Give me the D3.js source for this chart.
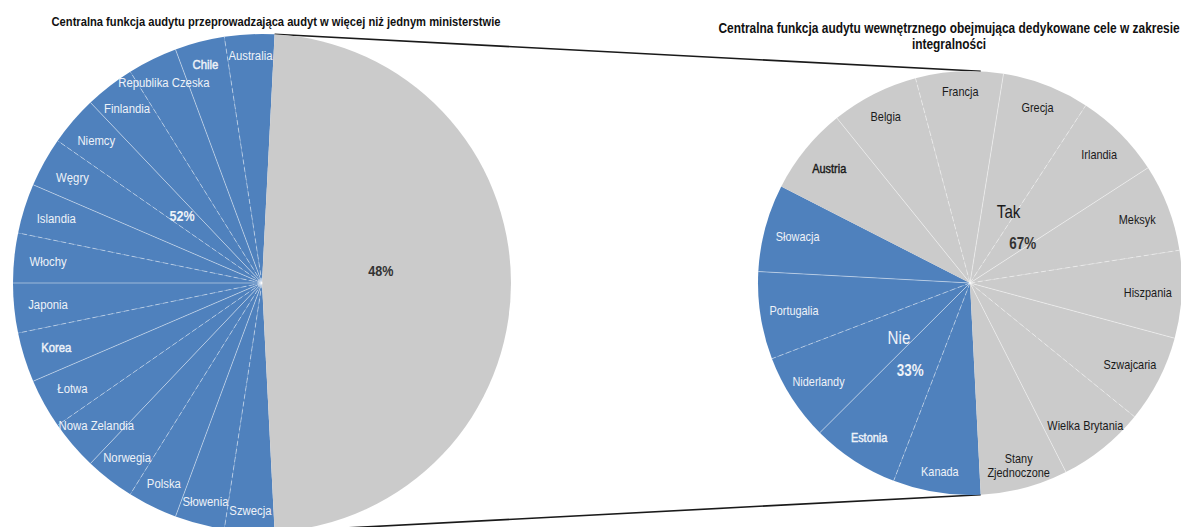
<!DOCTYPE html>
<html><head><meta charset="utf-8">
<script src="https://cdn.jsdelivr.net/npm/d3@7"></script>
<style>
body{margin:0;background:#fff;}
svg text{font-family:"Liberation Sans",Arial,sans-serif;}
</style></head>
<body><svg id="c" width="1181" height="527"></svg>
<script>
// ---- data ----
const leftTitle = "Centralna funkcja audytu przeprowadzająca audyt w więcej niż jednym ministerstwie";
const rightTitle = ["Centralna funkcja audytu wewnętrznego obejmująca dedykowane cele w zakresie", "integralności"];
const leftCategories = ["Szwecja","Słowenia","Polska","Norwegia","Nowa Zelandia","Łotwa","Korea","Japonia","Włochy","Islandia","Węgry","Niemcy","Finlandia","Republika Czeska","Chile","Australia","Pozostałe"];
const leftValues = [1,1,1,1,1,1,1,1,1,1,1,1,1,1,1,1,15];
const leftGroups = ["a","a","a","a","a","a","a","a","a","a","a","a","a","a","a","a","b"];
const leftPercent = ["52%","48%"];
const rightCategories = ["Kanada","Estonia","Niderlandy","Portugalia","Słowacja","Austria","Belgia","Francja","Grecja","Irlandia","Meksyk","Hiszpania","Szwajcaria","Wielka Brytania","Stany Zjednoczone"];
const rightValues = [1,1,1,1,1,1,1,1,1,1,1,1,1,1,1];
const rightGroups = ["nie","nie","nie","nie","nie","tak","tak","tak","tak","tak","tak","tak","tak","tak","tak"];
const rightGroupNames = ["Nie","Tak"];
const rightPercent = ["33%","67%"];
const emphasised = ["Chile","Korea","Austria","Estonia"];

// ---- layout ----
const svg = d3.select("#c");
const BLUE = "#4f81bd", GREY = "#cbcbcb", LIGHT = "#eef2f8";
const NARROW = 0.84; // emulate a condensed face
const L = {cx:262, cy:283, r:249};
const R = {cx:970, cy:283, r:212};
const total = d3.sum(leftValues);
const greyAngle = 2*Math.PI*leftValues[leftValues.length-1]/total;
const startAngle = Math.PI/2 + greyAngle/2;

const color = d3.scaleOrdinal().domain(["a","b","nie","tak"]).range([BLUE,GREY,BLUE,GREY]);
const pie = d3.pie().sort(null).value(d=>d.v).startAngle(startAngle).endAngle(startAngle+2*Math.PI);

function polar(c, a, r){ return [c.cx + r*Math.sin(a), c.cy - r*Math.cos(a)]; }

function drawPie(c, cats, vals, groups){
  const data = cats.map((k,i)=>({k, v:vals[i], g:groups[i]}));
  const arcs = pie(data);
  const arc = d3.arc().innerRadius(0).outerRadius(c.r);
  const g = svg.append("g").attr("transform",`translate(${c.cx},${c.cy})`);
  g.selectAll("path").data(arcs).join("path").attr("d",arc).attr("fill",d=>color(d.data.g));
  arcs.forEach((d,i)=>{
    const prev = arcs[(i-1+arcs.length)%arcs.length];
    if(prev.data.g!==d.data.g) return;
    const x = c.r*Math.sin(d.startAngle), y = -c.r*Math.cos(d.startAngle);
    g.append("line").attr("x1",0).attr("y1",0).attr("x2",x).attr("y2",y)
      .attr("stroke","#fff").attr("stroke-opacity",0.5).attr("stroke-width",0.9)
      .attr("stroke-dasharray", i%2 ? "5,3" : null);
  });
  return {arcs, g};
}

// connectors
[startAngle + 2*Math.PI - greyAngle, startAngle].forEach(a=>{
  const p1 = polar(L, a, L.r), p2 = polar(R, a, R.r);
  svg.append("line").attr("x1",p1[0]).attr("y1",p1[1]).attr("x2",p2[0]).attr("y2",p2[1])
    .attr("stroke","#1a1a1a").attr("stroke-width",1.6);
});

const left = drawPie(L, leftCategories, leftValues, leftGroups);
const right = drawPie(R, rightCategories, rightValues, rightGroups);

function sliceLabels(c, res, fs, skipGroup, colorFn, inset, side){
  res.arcs.forEach(d=>{
    if(d.data.g===skipGroup) return;
    const a = (d.startAngle+d.endAngle)/2;
    const lines = d.data.k==="Stany Zjednoczone" ? ["Stany","Zjednoczone"] : [d.data.k];
    const col = colorFn(d.data.g);
    const t = res.g.append("text").attr("font-size",fs).attr("fill",col)
      .attr("text-anchor","middle");
    if(emphasised.includes(d.data.k)) t.attr("stroke",col).attr("stroke-width",0.45);
    lines.forEach((ln,j)=>t.append("tspan").attr("x",0).attr("dy", j? "1.1em":0).text(ln));
    const bb = t.node().getBBox();
    const rr = c.r - inset - side*Math.abs(Math.sin(a));
    const x = rr*Math.sin(a), y = -rr*Math.cos(a);
    t.attr("transform",`translate(${x},${y - (bb.y + bb.height/2)}) scale(${NARROW},1)`);
  });
}
sliceLabels(L, left, 13.5, "b", g=>LIGHT, 20, 14);
sliceLabels(R, right, 13, null, g=> g==="nie" ? LIGHT : "#1a1a1a", 19, 15);

function txt(x,y,s,fs,fill,bold){
  svg.append("text").attr("transform",`translate(${x},${y}) scale(${NARROW},1)`)
    .attr("text-anchor","middle").attr("dominant-baseline","central")
    .attr("font-size",fs).attr("fill",fill).attr("font-weight",bold?"bold":null).text(s);
}
let p = polar(L, 2*Math.PI - 0.87, L.r*0.42); txt(p[0],p[1],leftPercent[0],15,LIGHT,true);
p = polar(L, 1.47, L.r*0.48); txt(p[0],p[1],leftPercent[1],15,"#333",true);
p = polar(R, 0.50, R.r*0.38); txt(p[0],p[1],rightGroupNames[1],18,"#1a1a1a",false);
p = polar(R, 0.93, R.r*0.31); txt(p[0],p[1],rightPercent[1],16,"#333",true);
p = polar(R, 4.05, R.r*0.425); txt(p[0],p[1],rightGroupNames[0],18,LIGHT,false);
p = polar(R, 3.74, R.r*0.50); txt(p[0],p[1],rightPercent[0],16,LIGHT,true);

// titles
svg.append("text").attr("transform",`translate(276,26) scale(${NARROW},1)`).attr("text-anchor","middle").attr("font-size",13.3)
  .attr("font-weight","bold").attr("fill","#111").text(leftTitle);
rightTitle.forEach((s,i)=>svg.append("text").attr("transform",`translate(949,${33+i*16}) scale(${NARROW},1)`).attr("text-anchor","middle")
  .attr("font-size",14.2).attr("font-weight","bold").attr("fill","#111").text(s));
</script></body></html>
